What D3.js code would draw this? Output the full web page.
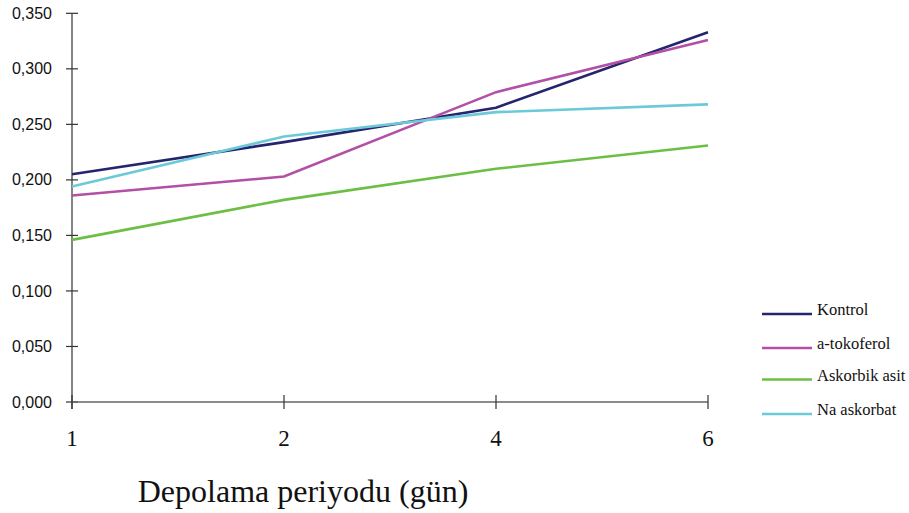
<!DOCTYPE html>
<html>
<head>
<meta charset="utf-8">
<script src="https://cdn.jsdelivr.net/npm/d3@7"></script>
<style>
  html, body { margin: 0; padding: 0; background: #fff; }
  svg { display: block; }
</style>
</head>
<body>
<svg id="chart" width="909" height="513"></svg>
<script>
// Storage days (categorical x axis)
const days = ["1", "2", "4", "6"];

// Series values per storage day
const kontrol = [0.205, 0.234, 0.265, 0.333];
const tokoferol = [0.186, 0.203, 0.279, 0.326];
const askorbikAsit = [0.146, 0.182, 0.210, 0.231];
const naAskorbat = [0.194, 0.239, 0.261, 0.268];

const seriesNames = ["Kontrol", "a-tokoferol", "Askorbik asit", "Na askorbat"];
const seriesColors = ["#25246f", "#b24fa6", "#6cbf44", "#6ccad8"];

// Y axis tick labels
const yTicks = [0, 0.05, 0.1, 0.15, 0.2, 0.25, 0.3, 0.35];
const yTickLabels = ["0,000", "0,050", "0,100", "0,150", "0,200", "0,250", "0,300", "0,350"];

const xTitle = "Depolama periyodu (gün)";

const series = [kontrol, tokoferol, askorbikAsit, naAskorbat].map((vals, i) => ({
  name: seriesNames[i],
  color: seriesColors[i],
  values: vals.map((v, j) => ({ day: days[j], v }))
}));

const serif = "'Liberation Serif', 'Times New Roman', serif";
const sans = "'Liberation Sans', Arial, sans-serif";

const svg = d3.select("#chart");
const plotLeft = 72, plotRight = 708, plotTop = 13.3, plotBottom = 402;

const x = d3.scalePoint().domain(days).range([plotLeft, plotRight]).padding(0);
const y = d3.scaleLinear().domain([0, 0.35]).range([plotBottom, plotTop]);

// Y axis: line plus ticks crossing it
svg.append("line")
  .attr("x1", plotLeft).attr("x2", plotLeft)
  .attr("y1", plotTop).attr("y2", plotBottom + 7)
  .attr("stroke", "#333").attr("stroke-width", 1.2);

svg.selectAll(".ytick").data(yTicks).enter().append("line")
  .attr("x1", plotLeft - 6).attr("x2", plotLeft + 6)
  .attr("y1", d => y(d)).attr("y2", d => y(d))
  .attr("stroke", "#333").attr("stroke-width", 1.2);

svg.selectAll(".ylabel").data(yTicks).enter().append("text")
  .attr("x", 52).attr("y", d => y(d))
  .attr("dy", "0.35em")
  .attr("text-anchor", "end")
  .attr("font-family", sans)
  .attr("font-size", 16)
  .attr("fill", "#111")
  .text((d, i) => yTickLabels[i]);

// X axis
svg.append("line")
  .attr("x1", plotLeft).attr("x2", plotRight)
  .attr("y1", plotBottom).attr("y2", plotBottom)
  .attr("stroke", "#666").attr("stroke-width", 1.5);

svg.selectAll(".xtick").data(days).enter().append("line")
  .attr("x1", d => x(d)).attr("x2", d => x(d))
  .attr("y1", plotBottom - 7).attr("y2", plotBottom + 7)
  .attr("stroke", "#333").attr("stroke-width", 1.2);

svg.selectAll(".xlabel").data(days).enter().append("text")
  .attr("x", d => x(d)).attr("y", 446)
  .attr("text-anchor", "middle")
  .attr("font-family", serif)
  .attr("font-size", 23)
  .attr("fill", "#111")
  .text(d => d);

// Axis title
svg.append("text")
  .attr("x", 303).attr("y", 502)
  .attr("text-anchor", "middle")
  .attr("font-family", serif)
  .attr("font-size", 32)
  .attr("fill", "#111")
  .text(xTitle);

// Series lines
const line = d3.line().x(d => x(d.day)).y(d => y(d.v));
svg.selectAll(".series").data(series).enter().append("path")
  .attr("d", d => line(d.values))
  .attr("fill", "none")
  .attr("stroke", d => d.color)
  .attr("stroke-width", 2.6)
  .attr("stroke-linejoin", "miter");

// Legend
const legendY = [314, 348, 379.5, 414];
const lg = svg.selectAll(".legend").data(series).enter().append("g")
  .attr("transform", (d, i) => `translate(762, ${legendY[i]})`);
lg.append("line")
  .attr("x1", 0).attr("x2", 50)
  .attr("stroke", d => d.color).attr("stroke-width", 2.6);
lg.append("text")
  .attr("x", 55).attr("y", 1)
  .attr("font-family", serif)
  .attr("font-size", 16.5)
  .attr("fill", "#111")
  .text(d => d.name);
</script>
</body>
</html>
